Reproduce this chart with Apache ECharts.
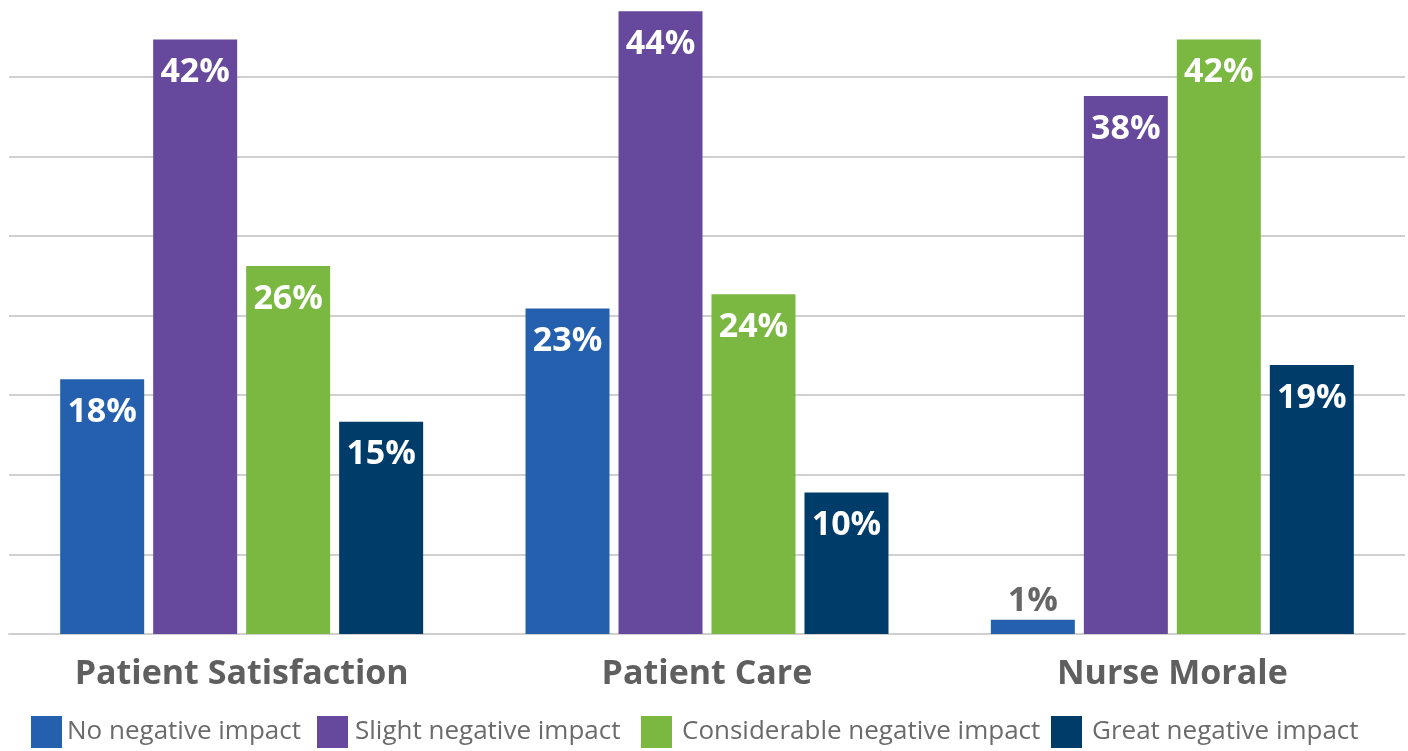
<!DOCTYPE html>
<html>
<head>
<meta charset="utf-8">
<title>Negative impact chart</title>
<script src="https://cdn.jsdelivr.net/npm/echarts@6/dist/echarts.min.js"></script>
<style>
  html, body { margin: 0; padding: 0; background: #fff; }
  #chart { width: 1408px; height: 751px; }
</style>
</head>
<body>
<div id="chart"></div>
<script>
// 数据
const categories = ['Patient Satisfaction', 'Patient Care', 'Nurse Morale'];
const seriesNames = ['No negative impact', 'Slight negative impact', 'Considerable negative impact', 'Great negative impact'];
const noImpact = [18, 23, 1];
const slightImpact = [42, 44, 38];
const considerableImpact = [26, 24, 42];
const greatImpact = [15, 10, 19];
const seriesColors = ['#2560ae', '#66499c', '#7ab842', '#003c69'];
const legendLeft = [31, 317, 641, 1051];
const legendPad = [0, 2, 5, 5];

const chart = echarts.init(document.getElementById('chart'));

const FONT = '"Open Sans", "Liberation Sans", sans-serif';

// 值太小时把标签放在柱子上方
const toData = (arr) => arr.map(v => v < 5
  ? { value: v, label: { position: 'top', distance: 2, color: '#666666' } }
  : v);

const makeSeries = (name, values, color) => ({
  name: name,
  type: 'bar',
  data: toData(values),
  barWidth: 84,
  barGap: '10.7%',
  itemStyle: { color: color },
  label: {
    show: true,
    position: 'insideTop',
    distance: 16,
    formatter: '{c}%',
    color: '#ffffff',
    fontFamily: FONT,
    fontWeight: 'bold',
    fontSize: 34
  }
});

const option = {
  animation: false,
  legend: seriesNames.map((n, i) => ({
    data: [n],
    left: legendLeft[i],
    top: 716,
    itemWidth: 31,
    itemHeight: 32,
    padding: 0,
    icon: 'rect',
    selectedMode: false,
    textStyle: {
      fontFamily: FONT,
      fontSize: 26,
      color: '#6b6b6b',
      padding: [0, 0, 0, legendPad[i]]
    }
  })),
  grid: {
    left: 9,
    right: 3,
    top: -3,
    bottom: 117,
    containLabel: false,
    outerBoundsMode: 'none'
  },
  xAxis: {
    type: 'category',
    data: categories,
    axisLine: { show: true, lineStyle: { color: '#d0d0d0', width: 2 } },
    axisTick: { show: false },
    axisLabel: {
      margin: 23,
      fontFamily: FONT,
      fontWeight: 'bold',
      fontSize: 34,
      color: '#5f5f5f'
    }
  },
  yAxis: {
    type: 'value',
    min: 0,
    max: 45,
    interval: 5.625,
    axisLabel: { show: false },
    axisLine: { show: false },
    axisTick: { show: false },
    splitLine: { lineStyle: { color: '#d0d0d0', width: 2 } }
  },
  series: [
    makeSeries(seriesNames[0], noImpact, seriesColors[0]),
    makeSeries(seriesNames[1], slightImpact, seriesColors[1]),
    makeSeries(seriesNames[2], considerableImpact, seriesColors[2]),
    makeSeries(seriesNames[3], greatImpact, seriesColors[3])
  ]
};

chart.setOption(option);
</script>
</body>
</html>
